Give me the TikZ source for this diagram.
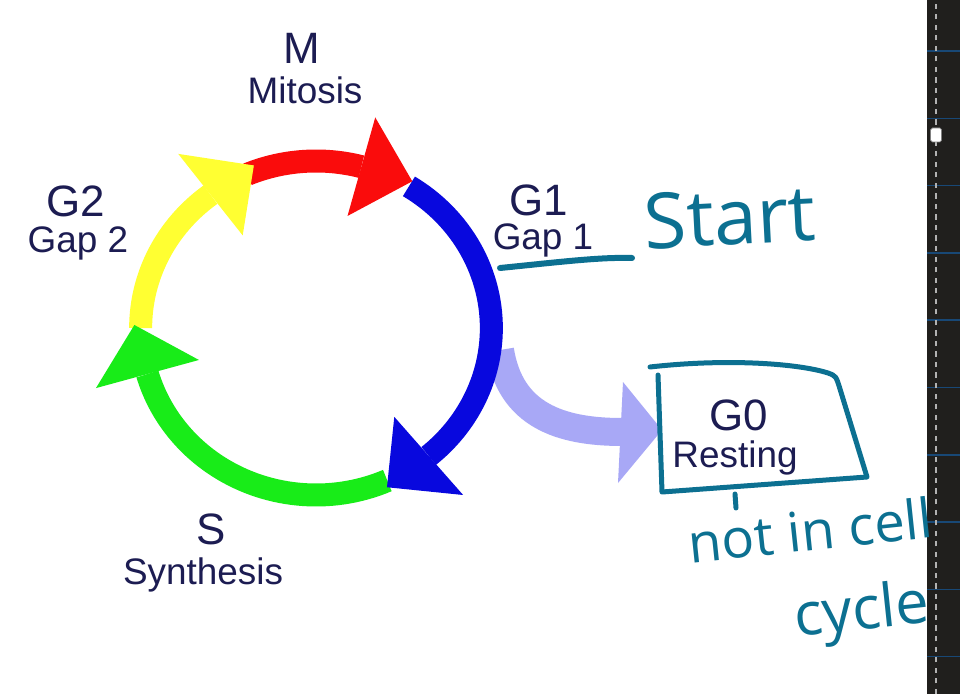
\documentclass[tikz,border=0pt]{standalone}
\usepackage{fontspec}
\setmainfont{Liberation Sans}
\newfontfamily\handfont{Open Sans}
\usetikzlibrary{positioning}

\definecolor{phaseRed}{RGB}{250,12,12}
\definecolor{phaseBlue}{RGB}{8,8,222}
\definecolor{phaseGreen}{RGB}{24,236,24}
\definecolor{phaseYellow}{RGB}{255,255,50}
\definecolor{restLilac}{RGB}{168,168,246}
\definecolor{labelNavy}{RGB}{28,28,82}
\definecolor{inkTeal}{RGB}{12,112,145}
\definecolor{panelDark}{RGB}{32,31,29}
\definecolor{panelRule}{RGB}{24,72,118}

\tikzset{
  phase/.style={draw=#1, line width=0.46cm},
  bigtag/.style={text=labelNavy, inner sep=0pt, anchor=base, font=\fontsize{25}{25}\selectfont},
  subtag/.style={text=labelNavy, inner sep=0pt, anchor=base, font=\fontsize{21}{21}\selectfont},
  ink/.style={text=inkTeal, inner sep=0pt, font=\handfont\fontsize{31}{31}\selectfont},
  inkline/.style={draw=inkTeal, line width=0.1cm, line cap=round, line join=round},
}

\begin{document}
\begin{tikzpicture}[x=0.02cm, y=0.02cm]
    \useasboundingbox (0,0) rectangle (960,694);
    \fill[white] (0,0) rectangle (960,694);

    % way out to G0
    \draw[restLilac, line width=0.56cm] (500,344) .. controls (510,279) and (560,262) .. (622,262);
    \fill[restLilac] (623,312) -- (662,264) -- (618,211) -- cycle;

    % the cycle
    \begin{scope}[shift={(316,366)}, xscale=1.05]
        \foreach \sa/\ea/\col in {113/75/phaseRed, 58/-50/phaseBlue, -66/-164/phaseGreen, 180/127/phaseYellow}
            \draw[phase=\col] (\sa:167) arc[start angle=\sa, end angle=\ea, radius=167];
        \foreach \ea/\ta/\col in {75/58/phaseRed, -50/-67/phaseBlue, -164/-181/phaseGreen, 127/110/phaseYellow}
            \fill[\col] (\ea:116) -- (\ea:218) -- (\ta:173) -- cycle;
    \end{scope}

    % phase labels
    \node[bigtag] (mTag) at (302,630) {M};
    \node[subtag] (mName) at (305,590) {Mitosis};
    \node[bigtag] (gTwoTag) at (76,477) {G2};
    \node[subtag] (gTwoName) at (78,441) {Gap 2};
    \node[bigtag] (gOneTag) at (539,479) {G1};
    \node[subtag] (gOneName) at (543,444) {Gap 1};
    \node[bigtag] (sTag) at (211,150) {S};
    \node[subtag] (sName) at (203,110) {Synthesis};
    \node[bigtag] (gZeroTag) at (739,264) {G0};
    \node[subtag] (gZeroName) at (735,227) {Resting};

    % side panel
    \fill[panelDark] (927,0) rectangle (960,694);
    \foreach \k in {0,...,9}
        \draw[panelRule, line width=0.03cm] (927,643-67.3*\k) -- (960,643-67.3*\k);
    \draw[gray!60, line width=0.05cm, dash pattern=on 3pt off 3pt] (936,0) -- (936,694);
    \filldraw[fill=white, draw=gray, rounded corners=1pt] (930.5,552) rectangle (941.5,566);

    % notes in ink
    \draw[inkline, line width=0.12cm] (500,426) .. controls (560,432) and (600,437) .. (632,436);
    \node[ink, font=\handfont\fontsize{44}{44}\selectfont, rotate=3] (startNote) at (730,477) {Start};
    \draw[inkline] (650,327) .. controls (730,336) and (800,330) .. (828,321)
        .. controls (836,318) .. (840,305) -- (867,217) -- (662,202) -- (658,319);
    \draw[inkline] (735,200) -- (736,186);
    \node[ink, rotate=6] (restNote) at (810,164) {not in cell};
    \node[ink, font=\handfont\fontsize{34}{34}\selectfont, rotate=6] (cycleNote) at (862,80) {cycle};
\end{tikzpicture}
\end{document}
